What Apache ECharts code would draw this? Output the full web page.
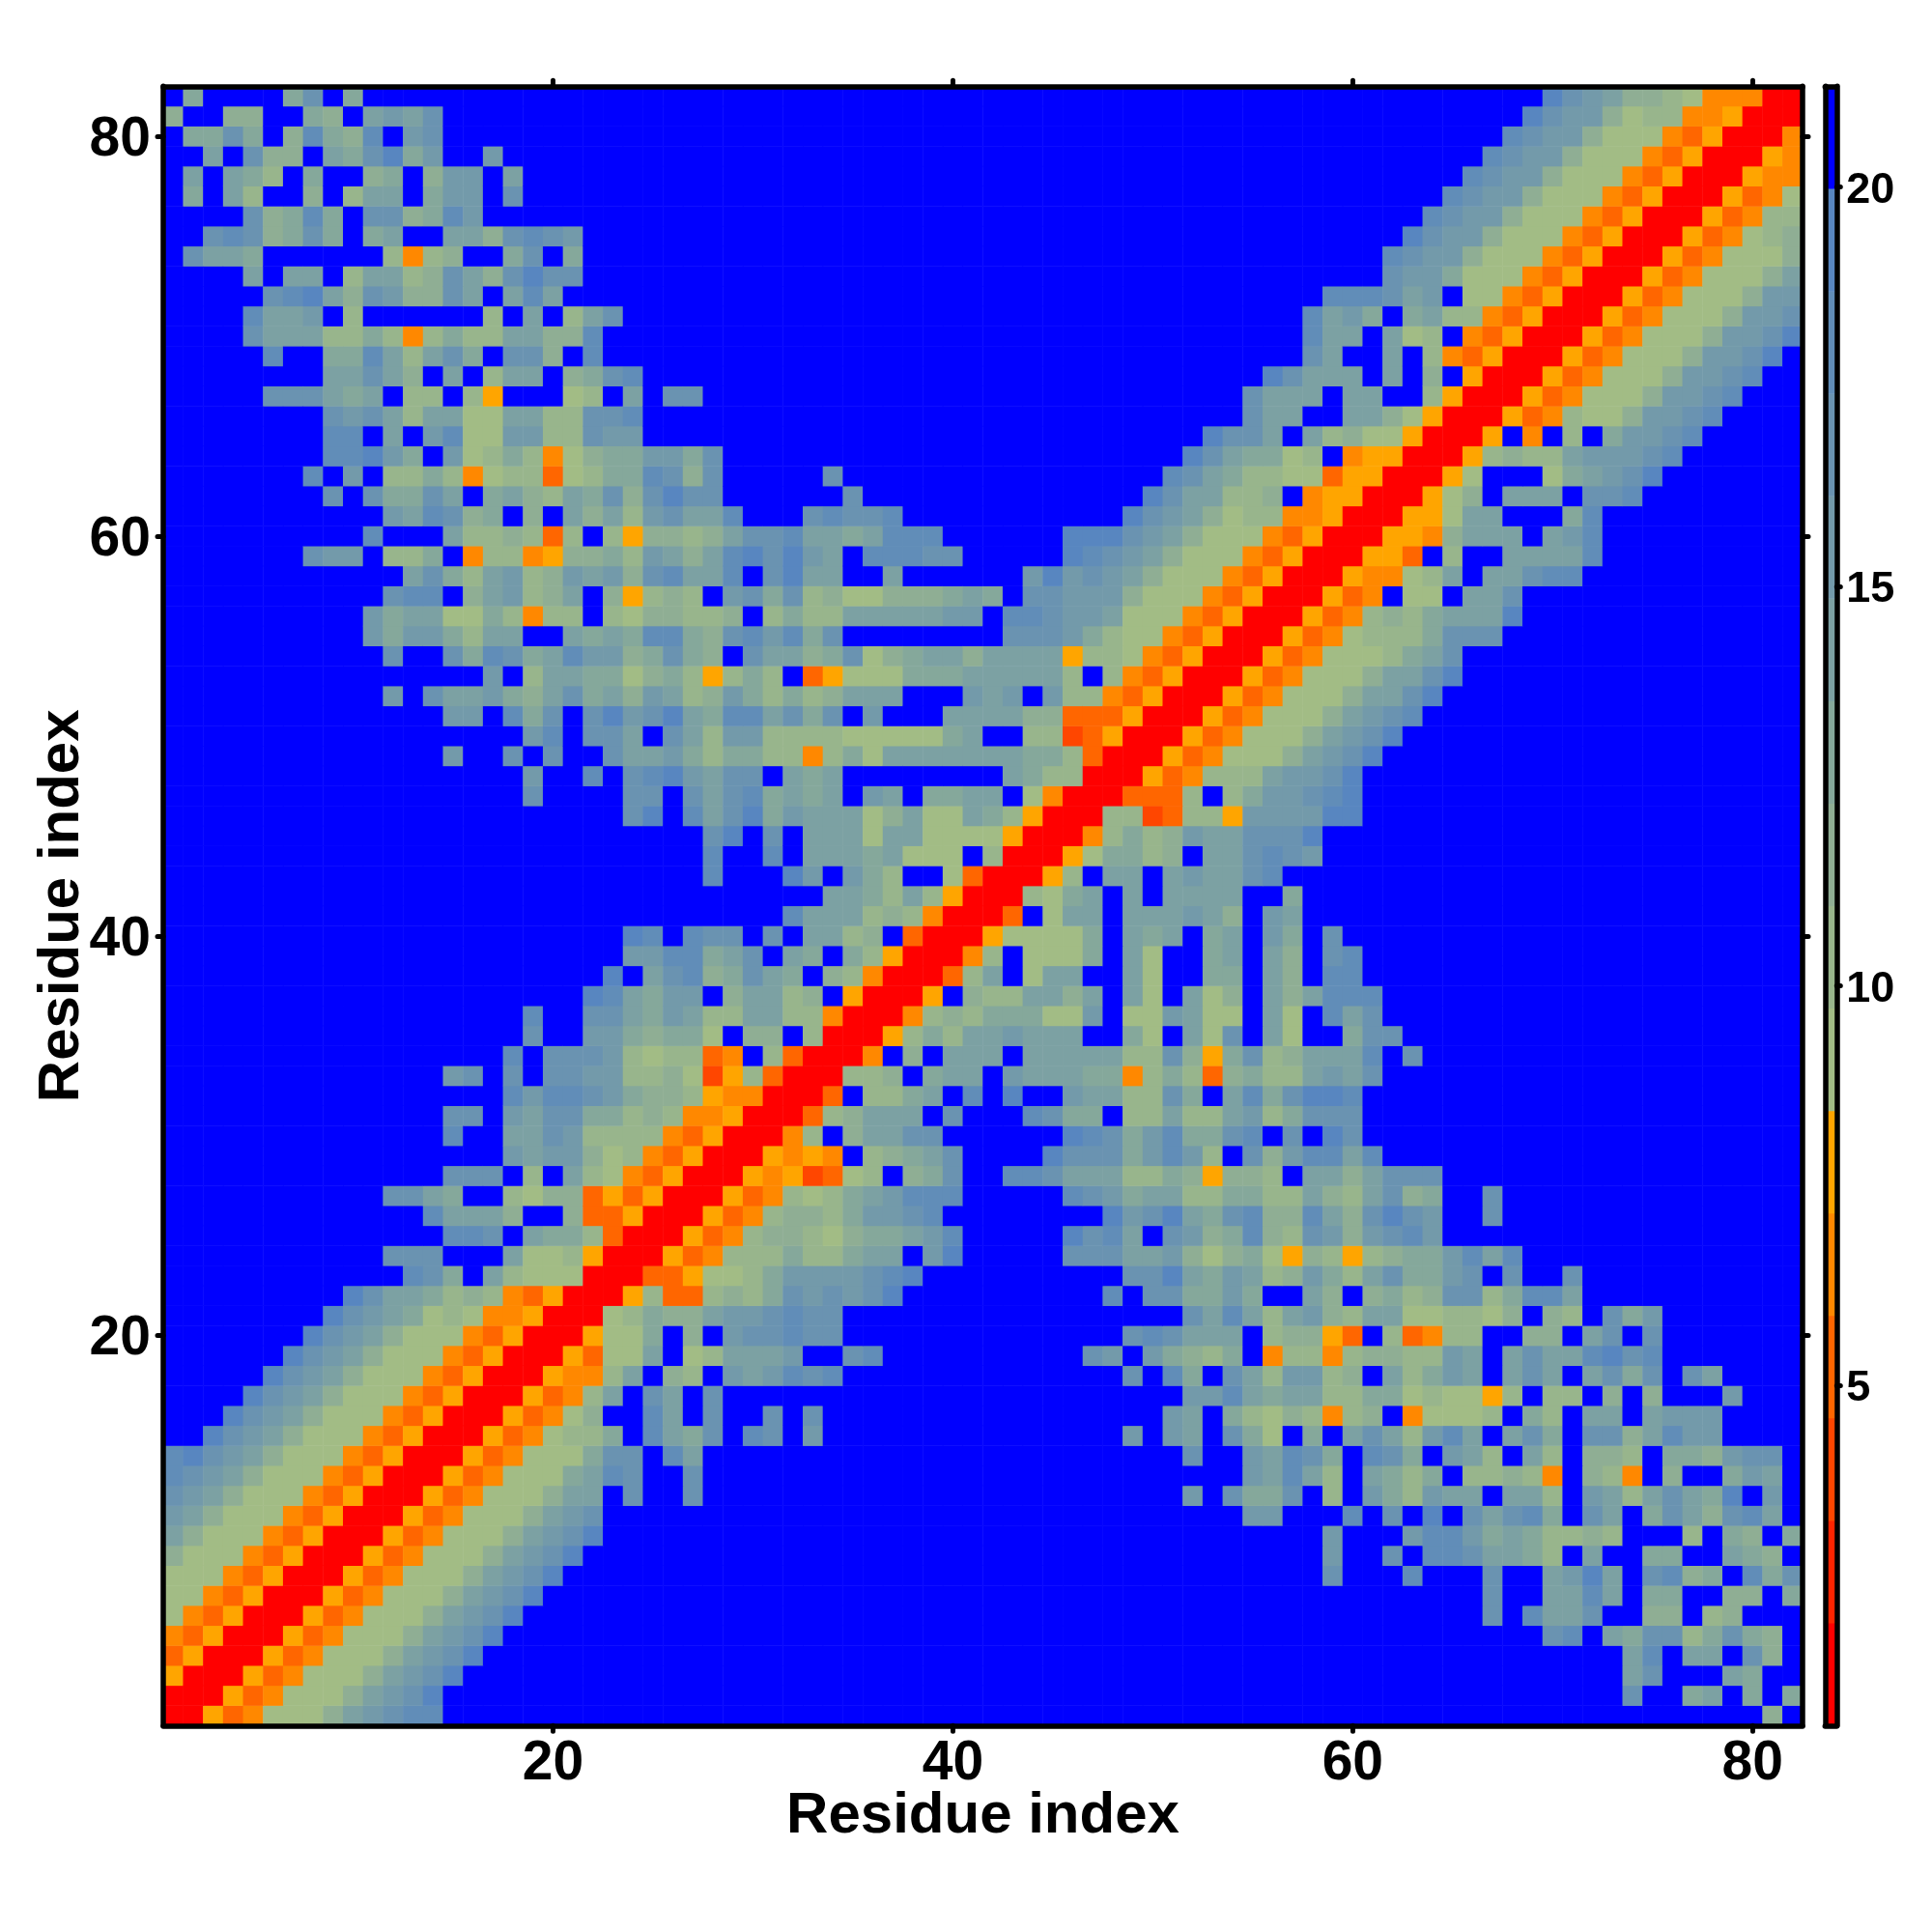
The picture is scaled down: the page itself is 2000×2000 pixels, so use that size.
<!DOCTYPE html>
<html><head><meta charset="utf-8">
<style>html,body{margin:0;padding:0;background:#fff}#c{width:2000px;height:2000px}</style>
<script src="https://cdn.jsdelivr.net/npm/echarts@6/dist/echarts.min.js"></script>
</head><body><div id="c"></div>
<script>
// Residue-residue distance matrix (symmetric). Each char is one colour band of the key.
// lowerA[j-1]: row j, from column j up to column 41 (missing cells are the top band).
var lowerA = [
"rracb999754322","rracb99975431","rracb99975431","rracb99975431","rracb99975431",
"rracb99975431","rracb99975431","rracb99975431","rracb99975431","rracb99975431",
"rracb9997543","rracb99975503003","rracb9996523003","rracb999633025","rracb98860256302304",
"rracb9700250300303","rracb8503503","rrabb850780454232","rrac99509855540032","rra996070433233",
"rr986775443233","rra8cc8786343431","rrcca99864444321","rracb888688655041","rracb87789766542",
"rracb877864432","rracb898654222","rrabadc980763","rrabab087653","rrb80755330",
"rrc8755503","rrc0886502","rr8870655","rrb07055","rra8685",
"rrb878","rra07","rrc8","rrb","rr","r"
];
// lowerB[j-1]: row j, columns 42..61 (or from column j when j > 42).
var lowerB = [
"","","","","","","",
"00000000000000000300","00000000000000000400","00000000000000000400",
"00000000000004400020","00000000004036630804","00000000000004525805","00000000003004523602",
"00000004045036906053","00000000045068978b87","00000000004425655886","00000003026035844870",
"00000340467860b88b87","00000003235550877ac0","00000000003525854785","00000020336646005707",
"00000003315645874685","000033355479769a78a8","00001325034762783474","00000014315632772573",
"00002346558866885785","02235558867a77805575","00013336424803742252","00001236426632030130",
"00236608858854863330","01004558836052631120","0455566b868c76885453","50555558837a63875552",
"54555006905930590063","66699409945990590253","88557505905970575222","50955005900660570220",
"80999605900650570320","a9999605650650460300","rc095505554570450000","rr896505055550060000",
"rra8055054553200000","rra966870553234000","rrb86874553331000","rr88dc88a4444110",
"rrccc8086443210","rracb888544310","rracb99975431","rracb9997543","rracb999754",
"rracb99975","rracb9997","rracb999","rracb98","rracb8","rracb","rrab","rra","rr","r"
];
// lowerC[j-1]: row j, columns 62..82 (or from column j when j > 62).
var lowerC = [
"000000000000000000070","000000000000300650606","000000000000530005600","000000000000520550370",
"000000003205633863670","000003025530077087000","000003005525066007706","020003005415032760263",
"302235568050066005670","042246568878000806706","301035326035063573250","684550558045853561040",
"68608878b078b07006450","360458058077806674330","584250536033752440000","0b9998068055054440000",
"69899a808807070004000","586450535053630350000","78845053552132","8cb88007705303",
"59988970780364","6873386225","3664303003","7664252","324","134003","376003","333",
"","","","","","03","3","","","","","",
"","","","","","","","","","1","32","531","5531","8653","886333","7865551","0990553",
"b985055322","ac080055552","aab75550542","raa95500062",
"rra9705550332","rra9000965431","rra8788544432","rra0b08064432","rracb89974432",
"rracb99974432","rracb99974432","rracb99974431","rracb99974431","rracb9997443","rracb999744",
"rracb99975","rracb9997","rracb987","rracb88","rracb9","rrabb","rrab","rrb","rr","r"
];
// Colour bands of the key, from low to high.
var bandChars  = ["r","e","d","c","b","a","9","8","7","6","5","4","3","2","1","0"];
var bandValues = [1.4,2.7,4.0,5.2,6.5,7.8,9.1,10.4,11.7,13.0,14.3,15.5,16.8,18.1,19.4,20.6];
var bandEdges  = [0.74,2.03,3.31,4.6,5.89,7.17,8.46,9.75,11.03,12.32,13.6,14.9,16.2,17.45,18.72,20,21.26];
var bandColors = ["#ff0000","#ff2400","#ff4600","#ff6600","#ff8800","#ffa500",
  "#a2bc85","#98b58c","#8fae94","#85a89b","#7ca1a3","#739aaa","#6a93b1","#618db8","#5886c0","#0000ff"];
var residues = []; for (var n = 1; n <= 82; n++) residues.push(String(n));
var keyTicks = [5,10,15,20];
var axisTitle = "Residue index";

var FONT = '"Liberation Sans"';
var charValue = {};
bandChars.forEach(function(c,i){charValue[c]=bandValues[i];});
var cells = [];
for (var j = 1; j <= 82; j++) {
  var s = "";
  if (j <= 41) s += (lowerA[j-1]||"").padEnd(42-j,"0");
  if (j <= 61) s += (lowerB[j-1]||"").padEnd(j<=42?20:62-j,"0");
  s += (lowerC[j-1]||"").padEnd(j<=62?21:83-j,"0");
  for (var k = 0; k < s.length; k++) {
    var i = j + k, v = charValue[s[k]];
    cells.push([i-1,j-1,v]);
    if (i !== j) cells.push([j-1,i-1,v]);
  }
}
var pieces = bandColors.map(function(c,i){return {min:bandEdges[i],max:bandEdges[i+1],color:c};});
var keyCells = bandValues.map(function(v,i){return [0,i,v];});

var boxLine = {show:true,onZero:false,lineStyle:{color:"#000",width:5.5,cap:"round"}};
var tick = function(len){return {show:true,alignWithLabel:true,length:len,
  interval:function(idx,val){return +val%20===0;},lineStyle:{color:"#000",width:5,cap:"round"}};};
var mainLabel = function(extra){return Object.assign({show:true,color:"#000",fontFamily:FONT,fontWeight:"bold",fontSize:57,
  interval:function(idx,val){return +val%20===0;}},extra);};
var nameStyle = {color:"#000",fontFamily:FONT,fontWeight:"bold",fontSize:60};
var hidden = {show:false};
var option = {
  animation:false, backgroundColor:"#fff",
  grid:[
    {left:169,top:89.3,width:1697,height:1697,containLabel:false},
    {left:1889.3,top:89.3,width:12,height:1697,containLabel:false}
  ],
  xAxis:[
    {type:"category",gridIndex:0,position:"bottom",data:residues,z:10,axisLine:boxLine,axisTick:tick(6),
      axisLabel:mainLabel({margin:11}),splitLine:hidden,
      name:axisTitle,nameLocation:"middle",nameGap:64,nameMoveOverlap:false,nameTextStyle:nameStyle},
    {type:"category",gridIndex:0,position:"top",data:residues,z:10,axisLine:boxLine,axisTick:tick(6),axisLabel:hidden,splitLine:hidden},
    {type:"category",gridIndex:1,position:"bottom",data:[""],z:10,axisLine:boxLine,axisTick:hidden,axisLabel:hidden,splitLine:hidden},
    {type:"category",gridIndex:1,position:"top",data:[""],z:10,axisLine:boxLine,axisTick:hidden,axisLabel:hidden,splitLine:hidden}
  ],
  yAxis:[
    {type:"category",gridIndex:0,position:"left",data:residues,z:10,axisLine:boxLine,axisTick:tick(6),
      axisLabel:mainLabel({margin:13,verticalAlign:"top",lineHeight:8}),splitLine:hidden,
      name:axisTitle,nameLocation:"middle",nameGap:75,nameRotate:90,nameMoveOverlap:false,nameTextStyle:nameStyle},
    {type:"category",gridIndex:0,position:"right",data:residues,z:10,axisLine:boxLine,axisTick:tick(6),axisLabel:hidden,splitLine:hidden},
    {type:"category",gridIndex:1,position:"left",data:bandChars,z:10,axisLine:boxLine,axisTick:hidden,axisLabel:hidden,splitLine:hidden},
    {type:"value",gridIndex:1,position:"right",min:bandEdges[0],max:bandEdges[16],z:10,axisLine:boxLine,
      axisTick:{show:true,length:4,customValues:keyTicks,lineStyle:{color:"#000",width:5,cap:"round"}},
      axisLabel:{show:true,customValues:keyTicks,margin:10,verticalAlign:"top",lineHeight:8,color:"#000",fontFamily:FONT,fontWeight:"bold",fontSize:45,
        formatter:function(v){return String(Math.round(v));}},
      splitLine:hidden}
  ],
  visualMap:{type:"piecewise",show:false,seriesIndex:[0,1],pieces:pieces},
  series:[
    {type:"heatmap",xAxisIndex:0,yAxisIndex:0,data:cells,progressive:0,itemStyle:{borderWidth:0},emphasis:{disabled:true}},
    {type:"heatmap",xAxisIndex:2,yAxisIndex:2,data:keyCells,progressive:0,itemStyle:{borderWidth:0},emphasis:{disabled:true}}
  ]
};
var chart = echarts.init(document.getElementById("c"),null,{renderer:"canvas"});
chart.setOption(option);
</script></body></html>
